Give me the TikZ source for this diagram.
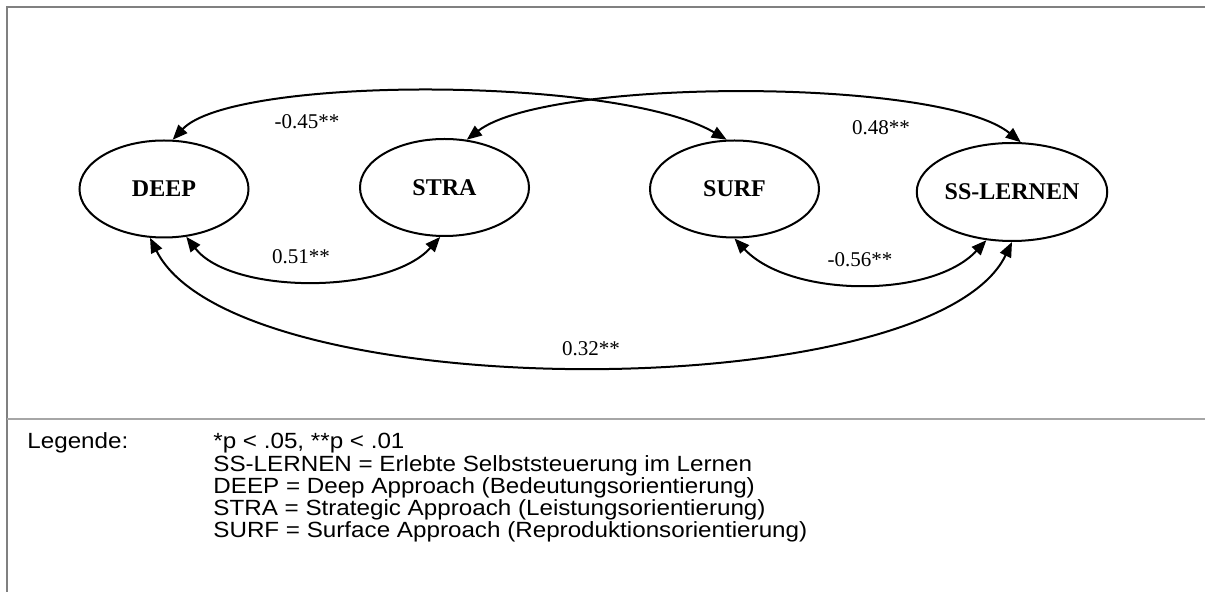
\documentclass[tikz,border=0pt]{standalone}
\usepackage{fontspec}
\setmainfont{Liberation Serif}
\newfontfamily\legendfont[FakeStretch=1.1]{Liberation Sans}
\usetikzlibrary{shapes.geometric,arrows.meta}

\tikzset{
    latent/.style={draw, ellipse, line width=1pt, inner sep=0pt,
        minimum width=84.5pt, minimum height=48.5pt,
        font={\fontsize{12}{14}\selectfont\bfseries}},
    corr/.style={line width=1pt,
        {Triangle[length=7.5pt,width=6pt]}-{Triangle[length=7.5pt,width=6pt]}},
    coef/.style={inner sep=0pt, font={\fontsize{10.5}{12}\selectfont}},
    legendline/.style={anchor=base west, inner sep=0pt,
        font={\legendfont\fontsize{11}{12}\selectfont}},
}

\begin{document}
\begin{tikzpicture}[x=0.5pt, y=-0.5pt]
            \useasboundingbox (0,0) rectangle (1205,592);

            % frame
            \draw[gray, line width=1pt]
                (1205,7.5) -- (7,7.5) -- (7,592);
            \draw[gray!70, line width=0.8pt]
                (7,419) -- (1205,419);

            % factors
            \node[latent] (deep) at (164,189) {DEEP};
            \node[latent] (stra) at (444.5,187.5) {STRA};
            \node[latent] (surf) at (734.5,189) {SURF};
            \node[latent, minimum width=82.5pt, minimum height=49pt] (sslernen) at (1012,192) {SS-LERNEN};

            % correlations
            \draw[corr]
                (deep.80) .. controls +(60,-64) and +(-110,-64) .. (surf.99);
            \draw[corr]
                (stra.65) .. controls +(80,-62) and +(-80,-65) .. (sslernen.80);
            \draw[corr]
                (deep.-65) .. controls +(45,58) and +(-52,58) .. (stra.-95);
            \draw[corr]
                (surf.-90) .. controls +(55,59) and +(-55,59) .. (sslernen.-118);
            \draw[corr]
                (deep.-106) .. controls +(85,170) and +(-80,166) .. (sslernen.-90);

            \node[coef] (c45) at (307,122) {-0.45**};
            \node[coef] (c48) at (881,128) {0.48**};
            \node[coef] (c51) at (301,257) {0.51**};
            \node[coef] (c56) at (860,260) {-0.56**};
            \node[coef] (c32) at (591,349) {0.32**};

            % legend
            \node[legendline] (legende) at (27,449) {Legende:};
            \node[legendline] (sig) at (213,449) {*p < .05, **p < .01};
            \node[legendline] (keyss) at (213,471.5) {SS-LERNEN = Erlebte Selbststeuerung im Lernen};
            \node[legendline] (keydeep) at (213,493.5) {DEEP = Deep Approach (Bedeutungsorientierung)};
            \node[legendline] (keystra) at (213,515.5) {STRA = Strategic Approach (Leistungsorientierung)};
            \node[legendline] (keysurf) at (213,537.5) {SURF = Surface Approach (Reproduktionsorientierung)};
\end{tikzpicture}
\end{document}
